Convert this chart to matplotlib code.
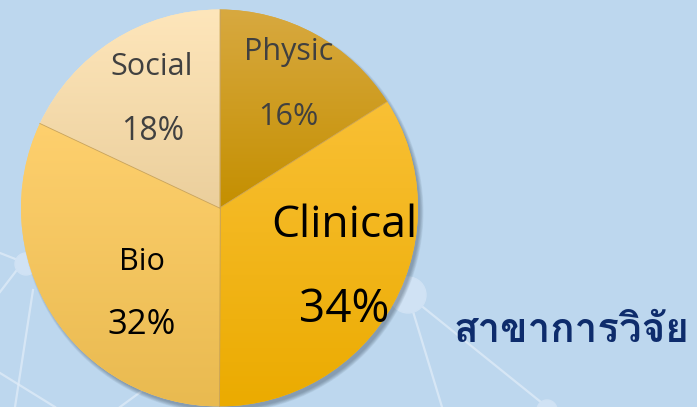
import matplotlib
matplotlib.use("Agg")
import matplotlib.pyplot as plt
import numpy as np
from matplotlib import font_manager
from matplotlib.ft2font import FT2Font
from matplotlib.colors import LinearSegmentedColormap
from matplotlib.patches import Circle

# data
fields = ["Physic", "Clinical", "Bio", "Social"]
shares = [16, 34, 32, 18]
title = "สาขาการวิจัย"

# gradient colours per slice (top, bottom)
grad = [("#d8a940", "#c48f00"),
        ("#f9c035", "#ebab00"),
        ("#fed06e", "#e9ba50"),
        ("#fee6bb", "#ebcf9c")]

# find a font that has Thai glyphs
thai_font = None
for f in font_manager.fontManager.ttflist:
    try:
        if 0x0E2A in FT2Font(f.fname).get_charmap():
            thai_font = f.name
            break
    except Exception:
        pass

W, H = 697, 407
fig = plt.figure(figsize=(W / 100, H / 100), dpi=100)
fig.patch.set_facecolor("#bdd7ee")
ax = fig.add_axes([0, 0, 1, 1])
ax.set_facecolor("#bdd7ee")

# faint network decoration in the background
net_lines = [((23, 262), (0, 253)), ((23, 262), (0, 292)), ((33, 290), (15, 407)),
             ((0, 373), (55, 407)), ((408, 295), (547, 407)), ((408, 295), (442, 407)),
             ((120, 407), (150, 385))]
for (x0, y0), (x1, y1) in net_lines:
    ax.plot([x0, x1], [H - y0, H - y1], color="#e2edf8", lw=1.6, alpha=0.7, zorder=1)
for (x, y, r) in [(26, 264, 11), (408, 295, 18), (547, 410, 10)]:
    ax.add_patch(Circle((x, H - y), r, color="#d0e2f4", zorder=1.5))

cx, cy, R = 219.5, H - 208, 198.5

# soft shadow (bottom right)
for i in range(6):
    ax.add_patch(Circle((cx + 3, cy - 4), R - 1 + 0.7 * i, color="#2a3a4a",
                        alpha=0.07, lw=0, zorder=2))

wedges, _ = ax.pie(shares, startangle=90, counterclock=False, center=(cx, cy),
                   radius=R, colors=[g[0] for g in grad], frame=True,
                   wedgeprops=dict(linewidth=0))
for w, (c0, c1) in zip(wedges, grad):
    w.set_zorder(3)
    verts = w.get_path().transformed(w.get_patch_transform()).vertices
    y0, y1 = verts[:, 1].min(), verts[:, 1].max()
    cmap = LinearSegmentedColormap.from_list("g", [c1, c0])
    img = ax.imshow(np.linspace(0, 1, 256).reshape(-1, 1), cmap=cmap, origin="lower",
                    extent=(cx - R, cx + R, y0, y1), aspect="auto", zorder=3.5)
    img.set_clip_path(w)
    # thin divider along the slice edge (spoke)
    a = np.deg2rad(w.theta1)
    ax.plot([cx, cx + R * np.cos(a)], [cy, cy + R * np.sin(a)],
            color="#c9a35a", lw=0.6, zorder=3.6)

ax.set_xlim(0, W)
ax.set_ylim(0, H)
ax.set_aspect("auto")
ax.axis("off")

latin = "Open Sans"
# slice labels: name (x, baseline px), value (x, baseline px), sizes, colour
label_style = [
    dict(pos=(289, 60), pos2=(288, 125), size=22, size2=22, color="#404040"),
    dict(pos=(344, 237), pos2=(344, 322), size=32, size2=33, color="black"),
    dict(pos=(142, 270), pos2=(142, 334), size=22, size2=25, color="black"),
    dict(pos=(152, 75), pos2=(153, 140), size=22, size2=23, color="#404040"),
]
for name, val, st in zip(fields, shares, label_style):
    ax.text(st["pos"][0], H - st["pos"][1], name, ha="center", va="baseline",
            fontsize=st["size"], color=st["color"], family=latin, zorder=5)
    ax.text(st["pos2"][0], H - st["pos2"][1], f"{val}%", ha="center", va="baseline",
            fontsize=st["size2"], color=st["color"], family=latin, zorder=5)

tfam = [thai_font, "DejaVu Sans"] if thai_font else ["DejaVu Sans"]
ax.text(571, H - 342, title, ha="center", va="baseline", fontsize=29,
        color="#0e2c6c", family=tfam, fontweight="semibold", zorder=5)

fig.savefig("out.png", dpi=100, facecolor=fig.get_facecolor())
